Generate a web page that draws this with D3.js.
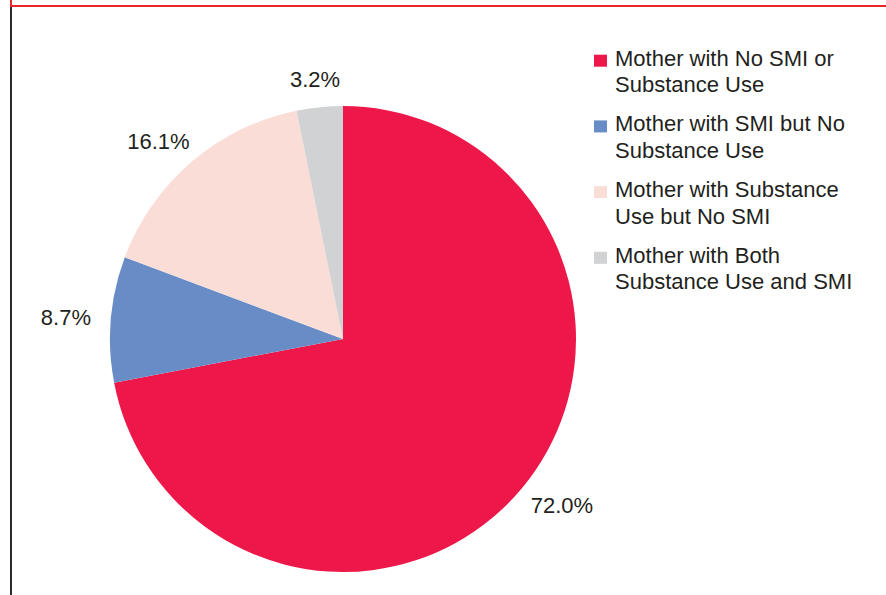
<!DOCTYPE html>
<html>
<meta charset="utf-8">
<head>
    <script src="https://d3js.org/d3.v7.min.js"></script>
    <style>
        body { margin: 0; background: #fff; }
        text { font-family: "Liberation Sans", Arial, Helvetica, sans-serif; fill: #231f20; }
    </style>
</head>
<body>
    <script>
        var width = 886,
            height = 595;

        // data
        var categories = [
            "Mother with No SMI or Substance Use",
            "Mother with SMI but No Substance Use",
            "Mother with Substance Use but No SMI",
            "Mother with Both Substance Use and SMI"
        ];
        var legendLines = [
            ["Mother with No SMI or", "Substance Use"],
            ["Mother with SMI but No", "Substance Use"],
            ["Mother with Substance", "Use but No SMI"],
            ["Mother with Both", "Substance Use and SMI"]
        ];
        var values = [72.0, 8.7, 16.1, 3.2];
        var colors = ["#ed1849", "#688dc6", "#fbddd8", "#d1d2d4"];

        var svg = d3.select("body").append("svg")
            .attr("width", width)
            .attr("height", height);

        // frame lines
        svg.append("line")
            .attr("x1", 11).attr("x2", 11).attr("y1", 6).attr("y2", height)
            .attr("stroke", "#2b2b2b").attr("stroke-width", 2);
        svg.append("line")
            .attr("x1", 11).attr("x2", 11).attr("y1", 0).attr("y2", 7)
            .attr("stroke", "#e8262b").attr("stroke-width", 2);
        svg.append("line")
            .attr("x1", 10).attr("x2", width).attr("y1", 6).attr("y2", 6)
            .attr("stroke", "#e8262b").attr("stroke-width", 2);

        var cx = 343, cy = 339, r = 233;

        var pie = d3.pie().sort(null).value(d => d);
        var arcs = pie(values);

        var arc = d3.arc().innerRadius(0).outerRadius(r);

        var g = svg.append("g").attr("transform", "translate(" + cx + "," + cy + ")");

        g.selectAll("path")
            .data(arcs)
            .enter()
            .append("path")
            .attr("d", arc)
            .attr("fill", (d, i) => colors[i]);

        // labels, pushed outside the rim by half their box
        var gap = 20;
        g.selectAll("text.lbl")
            .data(arcs)
            .enter()
            .append("text")
            .attr("class", "lbl")
            .attr("font-size", "22px")
            .attr("text-anchor", "middle")
            .text(d => d.data.toFixed(1) + "%")
            .each(function(d) {
                var a = (d.startAngle + d.endAngle) / 2;
                var box = this.getBBox();
                var hw = box.width / 2, hh = 7.8;
                var s = Math.sin(a), c = -Math.cos(a);
                var x = (r + gap) * s + s * hw;
                var y = (r + gap) * c + c * hh;
                d3.select(this).attr("x", x).attr("y", y + hh);
            });

        // legend
        var legend = svg.append("g").attr("transform", "translate(594,0)");
        var items = legend.selectAll("g")
            .data(categories)
            .enter()
            .append("g")
            .attr("transform", (d, i) => "translate(0," + (65.7 + i * 65.7) + ")");

        items.append("rect")
            .attr("x", 0).attr("y", -11)
            .attr("width", 13).attr("height", 12)
            .attr("fill", (d, i) => colors[i]);

        items.append("text")
            .attr("x", 21)
            .attr("font-size", "22px")
            .selectAll("tspan")
            .data((d, i) => legendLines[i])
            .enter()
            .append("tspan")
            .attr("x", 21)
            .attr("y", (d, j) => j * 26.6)
            .text(d => d);
    </script>
</body>
</html>
